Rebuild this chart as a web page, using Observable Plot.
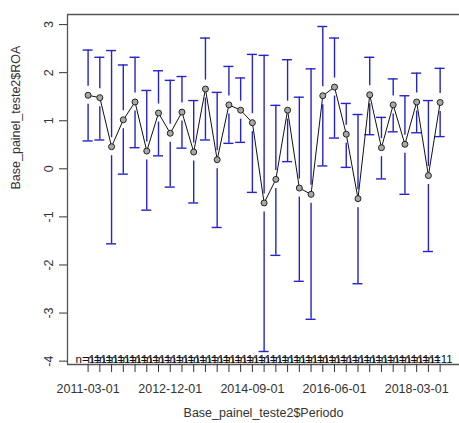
<!DOCTYPE html>
<html>
<head>
<meta charset="utf-8">
<script src="https://cdn.jsdelivr.net/npm/d3@7"></script>
<script src="https://cdn.jsdelivr.net/npm/@observablehq/plot@0.6"></script>
<style>
  html, body { margin: 0; padding: 0; background: #fff; }
</style>
</head>
<body>
<div id="chart"></div>
<script>
const periods = [
  "2011-03-01","2011-06-01","2011-09-01","2011-12-01",
  "2012-03-01","2012-06-01","2012-09-01","2012-12-01",
  "2013-03-01","2013-06-01","2013-09-01","2013-12-01",
  "2014-03-01","2014-06-01","2014-09-01","2014-12-01",
  "2015-03-01","2015-06-01","2015-09-01","2015-12-01",
  "2016-03-01","2016-06-01","2016-09-01","2016-12-01",
  "2017-03-01","2017-06-01","2017-09-01","2017-12-01",
  "2018-03-01","2018-06-01","2018-09-01"
];
const means = [1.53, 1.48, 0.46, 1.02, 1.39, 0.37, 1.16, 0.74,
  1.18, 0.35, 1.66, 0.19, 1.33, 1.22, 0.96, -0.71,
  -0.22, 1.22, -0.40, -0.53, 1.52, 1.70, 0.72, -0.62,
  1.54, 0.44, 1.33, 0.51, 1.39, -0.14, 1.38];
const upper = [2.47, 2.32, 2.46, 2.16, 2.32, 1.63, 2.04, 1.84,
  1.92, 1.42, 2.72, 1.59, 2.13, 1.89, 2.38, 2.36,
  1.32, 2.27, 1.49, 2.08, 2.96, 2.72, 1.36, 1.13,
  2.32, 1.07, 1.87, 1.52, 1.99, 1.42, 2.09];
const lower = [0.58, 0.60, -1.56, -0.11, 0.44, -0.86, 0.27, -0.38,
  0.43, -0.71, 0.60, -1.22, 0.53, 0.55, -0.49, -3.80,
  -1.80, 0.15, -2.34, -3.13, 0.06, 0.64, 0.03, -2.39,
  0.71, -0.21, 0.77, -0.53, 0.75, -1.72, 0.67];
const counts = Array(31).fill(11);
const yTicks = [-4, -3, -2, -1, 0, 1, 2, 3];
const xLabelIdx = [0, 7, 14, 21, 28];

const data = periods.map((p, i) => ({i, p, m: means[i], u: upper[i], l: lower[i], n: counts[i]}));

const xDom = [-1.755, 31.65];
const yDom = [-4.07, 3.21];
const barColor = "#2424c8";
const gap = 9;

const chart = Plot.plot({
  width: 459,
  height: 423,
  marginLeft: 67,
  marginRight: 0,
  marginTop: 14,
  marginBottom: 59,
  style: {fontFamily: "'Liberation Sans', Arial, sans-serif", fontSize: "12.5px", background: "#fff"},
  x: {type: "linear", domain: xDom},
  y: {type: "linear", domain: yDom},
  marks: [
    // box
    Plot.ruleY([yDom[1]], {stroke: "#555", strokeWidth: 1.3}),
    Plot.ruleY([yDom[0]], {stroke: "#555", strokeWidth: 1.3}),
    Plot.ruleX([xDom[0]], {stroke: "#555", strokeWidth: 1.3}),
    // x axis
    Plot.axisX({
      ticks: data.map(d => d.i),
      tickSize: 8,
      tickPadding: 12,
      stroke: "#333",
      color: "#333",
      tickFormat: i => xLabelIdx.includes(i) ? periods[i] : "",
      label: null
    }),
    // y axis ticks
    Plot.axisY({ticks: yTicks, tickSize: 8, stroke: "#333", tickFormat: () => "", label: null}),
    Plot.text(yTicks, {x: xDom[0], y: d => d, text: d => String(d), rotate: -90, dx: -19, fill: "#333", textAnchor: "middle", lineAnchor: "middle"}),
    // axis titles
    Plot.text(["Base_painel_teste2$Periodo"], {frameAnchor: "bottom", dy: 48, lineAnchor: "middle", fill: "#333"}),
    Plot.text(["Base_painel_teste2$ROA"], {frameAnchor: "left", dx: -52, rotate: -90, lineAnchor: "middle", fill: "#333"}),
    // error bars
    Plot.ruleX(data, {x: "i", y1: "u", y2: "m", insetBottom: gap, stroke: barColor, strokeWidth: 1.4}),
    Plot.ruleX(data, {x: "i", y1: "m", y2: "l", insetTop: gap, stroke: barColor, strokeWidth: 1.4}),
    Plot.ruleY(data, {x1: "i", x2: "i", y: "u", insetLeft: -5, insetRight: -5, stroke: barColor, strokeWidth: 1.4}),
    Plot.ruleY(data, {x1: "i", x2: "i", y: "l", insetLeft: -5, insetRight: -5, stroke: barColor, strokeWidth: 1.4}),
    // means
    Plot.line(data, {x: "i", y: "m", stroke: "#111", strokeWidth: 1}),
    Plot.dot(data, {x: "i", y: "m", r: 3, stroke: "#222", fill: "#a8a8a8", strokeWidth: 1}),
    // n labels (overlapping, as in the reference)
    Plot.text(data, {x: "i", y: () => yDom[0], text: d => "n=" + d.n, dy: -5, fontSize: 11.5, fill: "#111", lineAnchor: "middle"})
  ]
});
document.getElementById("chart").appendChild(chart);
</script>
</body>
</html>
